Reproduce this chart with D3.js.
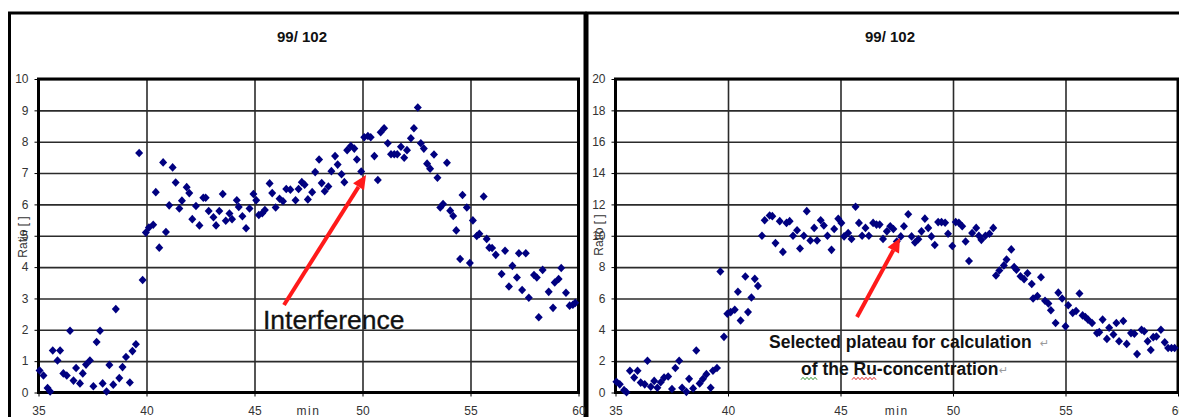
<!DOCTYPE html>
<html>
<head>
<meta charset="utf-8">
<script src="https://cdn.jsdelivr.net/npm/d3@7"></script>
<style>
  html, body { margin: 0; padding: 0; background: #ffffff; }
  svg { display: block; font-family: Arial, "Liberation Sans", sans-serif; }
</style>
</head>
<body>
<script>
// Isotope ratio 99/102 versus time, two evaluations side by side.
const xTicks = [35, 40, 45, 50, 55, 60];
const yTicksLeft = [0, 1, 2, 3, 4, 5, 6, 7, 8, 9, 10];
const yTicksRight = [0, 2, 4, 6, 8, 10, 12, 14, 16, 18, 20];

const timeLeft = [
  35.05, 35.23, 35.42, 35.54, 35.66, 35.88, 36.00, 36.15, 36.31, 36.46,
  36.62, 36.74, 36.92, 37.05, 37.20, 37.38, 37.54, 37.69, 37.85, 37.97,
  38.15, 38.28, 38.46, 38.58, 38.74, 38.89, 39.05, 39.23, 39.35, 39.51,
  39.66, 39.82, 39.97, 40.11, 40.31, 40.43, 40.59, 40.77, 40.90, 41.05,
  41.21, 41.35, 41.52, 41.64, 41.86, 41.98, 42.12, 42.29, 42.45, 42.63,
  42.74, 42.88, 43.10, 43.22, 43.37, 43.53, 43.67, 43.84, 43.96, 44.18,
  44.27, 44.44, 44.61, 44.77, 44.95, 45.08, 45.20, 45.36, 45.48, 45.70,
  45.82, 45.98, 46.16, 46.32, 46.47, 46.66, 46.90, 47.04, 47.19, 47.32,
  47.47, 47.67, 47.81, 47.99, 48.11, 48.25, 48.42, 48.56, 48.73, 48.85,
  49.03, 49.16, 49.29, 49.46, 49.62, 49.74, 49.94, 50.08, 50.25, 50.38,
  50.55, 50.71, 50.84, 51.00, 51.17, 51.32, 51.47, 51.61, 51.78, 51.93,
  52.06, 52.24, 52.38, 52.56, 52.70, 52.84, 52.99, 53.13, 53.31, 53.47,
  53.60, 53.73, 53.91, 54.06, 54.20, 54.34, 54.52, 54.63, 54.83, 54.97,
  55.11, 55.29, 55.41, 55.61, 55.75, 55.87, 56.00, 56.17, 56.44, 56.60,
  56.78, 56.94, 57.15, 57.24, 57.39, 57.56, 57.70, 57.94, 58.07, 58.16,
  58.34, 58.62, 58.82, 58.90, 59.08, 59.20, 59.42, 59.59, 59.74, 59.85
];
const ratioLeft = [
  0.70, 0.54, 0.14, 0.03, 1.34, 1.02, 1.34, 0.61, 0.54, 1.97,
  0.38, 0.78, 0.29, 0.61, 0.89, 1.02, 0.20, 1.61, 1.97, 0.29,
  0.03, 0.88, 0.25, 2.66, 0.46, 0.81, 1.13, 0.32, 1.32, 1.54,
  7.64, 3.59, 5.10, 5.26, 5.35, 6.39, 4.62, 7.34, 5.12, 5.97,
  7.18, 6.70, 5.87, 6.12, 6.55, 6.36, 5.53, 5.95, 5.33, 6.21,
  6.21, 5.79, 5.59, 5.33, 5.79, 6.33, 5.48, 5.71, 5.53, 6.13,
  5.92, 5.62, 5.24, 5.87, 6.33, 6.13, 5.66, 5.72, 5.82, 6.67,
  6.36, 5.90, 6.18, 6.10, 6.49, 6.47, 6.13, 6.49, 6.71, 6.63,
  6.16, 6.39, 7.03, 7.43, 6.68, 6.42, 6.57, 7.06, 7.54, 7.27,
  6.96, 6.71, 7.73, 7.86, 7.78, 7.43, 7.05, 8.14, 8.18, 8.14,
  7.54, 6.78, 8.30, 8.43, 7.95, 7.60, 7.60, 7.60, 7.84, 7.49,
  7.73, 8.11, 8.43, 9.09, 7.95, 7.78, 7.30, 7.14, 7.59, 6.85,
  5.90, 6.01, 7.33, 5.80, 5.63, 5.17, 4.26, 6.30, 5.90, 4.13,
  5.49, 4.99, 5.06, 6.25, 4.90, 4.62, 4.61, 4.39, 3.78, 4.52,
  3.38, 4.04, 3.67, 4.44, 3.27, 4.44, 3.02, 3.75, 3.67, 2.40,
  3.91, 3.21, 2.70, 3.51, 3.62, 3.97, 3.18, 2.77, 2.80, 2.86
];

const timeRight = [
  35.04, 35.19, 35.38, 35.49, 35.64, 35.83, 35.98, 36.12, 36.30, 36.42,
  36.57, 36.72, 36.86, 37.01, 37.16, 37.34, 37.51, 37.66, 37.83, 37.96,
  38.15, 38.27, 38.45, 38.59, 38.74, 38.89, 39.04, 39.23, 39.33, 39.51,
  39.66, 39.82, 39.97, 40.12, 40.30, 40.44, 40.56, 40.77, 40.89, 41.04,
  41.19, 41.33, 41.51, 41.63, 41.85, 41.97, 42.11, 42.30, 42.44, 42.60,
  42.74, 42.89, 43.07, 43.20, 43.37, 43.50, 43.66, 43.83, 43.96, 44.12,
  44.26, 44.42, 44.60, 44.72, 44.90, 45.04, 45.16, 45.34, 45.49, 45.67,
  45.82, 45.96, 46.11, 46.26, 46.45, 46.60, 46.74, 46.89, 47.06, 47.21,
  47.35, 47.50, 47.68, 47.82, 48.01, 48.16, 48.31, 48.46, 48.60, 48.75,
  48.90, 49.04, 49.19, 49.34, 49.49, 49.65, 49.78, 49.97, 50.12, 50.26,
  50.41, 50.56, 50.71, 50.85, 51.03, 51.15, 51.26, 51.44, 51.62, 51.79,
  51.91, 52.06, 52.26, 52.38, 52.59, 52.72, 52.82, 53.00, 53.16, 53.31,
  53.50, 53.56, 53.75, 53.91, 54.09, 54.24, 54.35, 54.56, 54.68, 54.85,
  55.00, 55.12, 55.32, 55.47, 55.62, 55.76, 55.88, 56.00, 56.18, 56.40,
  56.50, 56.65, 56.84, 56.94, 57.13, 57.26, 57.38, 57.57, 57.72, 57.91,
  58.06, 58.18, 58.38, 58.50, 58.65, 58.79, 58.90, 59.04, 59.24, 59.41,
  59.56, 59.71, 59.85
];
const ratioRight = [
  0.69, 0.52, 0.15, 0.02, 1.39, 0.95, 1.39, 0.63, 0.52, 2.03,
  0.37, 0.74, 0.30, 0.65, 0.95, 1.02, 0.22, 1.56, 2.03, 0.30,
  0.04, 0.87, 0.26, 2.68, 0.58, 0.87, 1.17, 0.30, 1.39, 1.56,
  7.72, 3.55, 5.02, 5.13, 5.28, 6.43, 4.59, 7.40, 5.13, 6.06,
  7.25, 6.80, 10.00, 10.99, 11.29, 11.25, 9.53, 10.93, 8.97, 10.82,
  10.93, 10.00, 10.35, 9.19, 10.00, 11.57, 9.70, 10.50, 9.70, 10.99,
  10.65, 10.00, 9.10, 10.43, 11.08, 10.82, 9.96, 10.18, 9.79, 11.85,
  10.82, 10.00, 10.50, 10.00, 10.82, 10.71, 10.71, 9.80, 10.28, 10.61,
  10.43, 9.63, 9.96, 10.61, 11.37, 9.96, 9.57, 9.78, 10.28, 11.09,
  10.50, 9.96, 9.41, 10.87, 10.87, 10.83, 10.13, 9.35, 10.87, 10.83,
  10.61, 9.63, 8.39, 10.17, 10.50, 10.00, 9.74, 10.00, 10.13, 10.50,
  7.46, 7.78, 8.11, 8.48, 9.13, 8.00, 7.83, 7.42, 7.23, 7.61,
  6.92, 6.00, 6.15, 7.35, 5.85, 5.68, 5.25, 4.43, 6.37, 6.00,
  4.22, 5.57, 5.08, 5.20, 6.32, 4.92, 4.82, 4.65, 4.43, 3.79,
  3.85, 4.65, 3.42, 4.13, 3.70, 4.43, 3.27, 4.56, 3.10, 3.79,
  3.75, 2.45, 4.00, 3.91, 3.27, 2.71, 3.53, 3.57, 4.00, 3.20,
  2.84, 2.84, 2.84
];

const W = 1179, H = 417;
const svg = d3.select("body").append("svg")
  .attr("width", W).attr("height", H)
  .attr("viewBox", `0 0 ${W} ${H}`);

svg.append("rect").attr("width", W).attr("height", H).attr("fill", "#ffffff");

const ink = "#111111";
const labelInk = "#333333";
const markerInk = "#000080";

// diamond marker, slightly wider than d3's built-in one
const diamond = "M0,-4.3L4,0L0,4.3L-4,0Z";

function drawPanel(cfg) {
  const g = svg.append("g");

  // outer chart frame
  g.append("rect")
    .attr("x", cfg.frame[0]).attr("y", cfg.frame[1])
    .attr("width", cfg.frame[2]).attr("height", cfg.frame[3])
    .attr("fill", "none").attr("stroke", "#000").attr("stroke-width", 3);

  const x = d3.scaleLinear().domain([35, 60]).range([cfg.left, cfg.right]);
  const y = d3.scaleLinear().domain([0, cfg.yMax]).range([cfg.bottom, cfg.top]);
  const w = cfg.right - cfg.left, h = cfg.bottom - cfg.top;

  // grid
  const gridY = g.append("g").attr("transform", `translate(${cfg.left},0)`)
    .call(d3.axisLeft(y).tickValues(cfg.yTicks).tickSize(-w).tickFormat(""));
  const gridX = g.append("g").attr("transform", `translate(0,${cfg.bottom})`)
    .call(d3.axisBottom(x).tickValues(xTicks).tickSize(-h).tickFormat(""));
  [gridY, gridX].forEach(a => {
    a.select(".domain").remove();
    a.selectAll("line").attr("stroke", "#2b2b2b").attr("stroke-width", 1.6);
  });

  // plot area border
  g.append("rect")
    .attr("x", cfg.left).attr("y", cfg.top).attr("width", w).attr("height", h)
    .attr("fill", "none").attr("stroke", "#000").attr("stroke-width", 3);

  // axes with labels
  const ay = g.append("g").attr("transform", `translate(${cfg.left},0)`)
    .call(d3.axisLeft(y).tickValues(cfg.yTicks).tickSize(4).tickSizeOuter(0).tickPadding(6));
  const ax = g.append("g").attr("transform", `translate(0,${cfg.bottom})`)
    .call(d3.axisBottom(x).tickValues(xTicks).tickSize(4).tickSizeOuter(0).tickPadding(10));
  [ay, ax].forEach(a => {
    a.select(".domain").remove();
    a.selectAll("line").attr("stroke", "#000").attr("stroke-width", 1);
    a.selectAll("text").attr("fill", labelInk)
      .style("font-family", "Arial, 'Liberation Sans', sans-serif")
      .style("font-size", "12px");
  });

  // axis titles
  g.append("text")
    .attr("transform", `translate(${cfg.yTitleX},${cfg.yTitleY}) rotate(-90)`)
    .attr("text-anchor", "middle").attr("dominant-baseline", "middle")
    .attr("fill", labelInk).style("font-size", "12px")
    .text("Ratio [ ]");
  g.append("text")
    .attr("x", x(47.5)).attr("y", 415)
    .attr("text-anchor", "middle").attr("fill", labelInk)
    .style("font-size", "12px").style("letter-spacing", "1.5px")
    .text("min");

  // chart title
  g.append("text")
    .attr("x", cfg.titleX).attr("y", 42)
    .attr("text-anchor", "middle").attr("fill", ink)
    .style("font-size", "15px").style("font-weight", "bold")
    .text("99/ 102");

  // measured points
  g.append("g").selectAll("path")
    .data(d3.zip(cfg.time, cfg.ratio))
    .join("path")
    .attr("d", diamond)
    .attr("transform", d => `translate(${x(d[0])},${y(d[1])})`)
    .attr("fill", markerInk);

  return g;
}

function arrow(g, x1, y1, x2, y2) {
  const ang = Math.atan2(y2 - y1, x2 - x1);
  const len = 14, half = 6.5;
  const bx = x2 - len * Math.cos(ang), by = y2 - len * Math.sin(ang);
  g.append("line")
    .attr("x1", x1).attr("y1", y1).attr("x2", bx).attr("y2", by)
    .attr("stroke", "#ff1a1a").attr("stroke-width", 4).attr("stroke-linecap", "butt");
  const px = -Math.sin(ang) * half, py = Math.cos(ang) * half;
  g.append("path")
    .attr("d", `M${x2},${y2}L${bx + px},${by + py}L${bx - px},${by - py}Z`)
    .attr("fill", "#ff1a1a");
}

function squiggle(g, x0, x1, yb, color) {
  const pts = [];
  for (let xx = x0, k = 0; xx <= x1; xx += 2, k++) pts.push([xx, yb + (k % 2 ? -1.2 : 1.2)]);
  g.append("path").attr("d", d3.line()(pts))
    .attr("fill", "none").attr("stroke", color).attr("stroke-width", 1);
}

const leftPanel = drawPanel({
  frame: [9.5, 13, 575.5, 430],
  left: 38.5, right: 578.5, top: 79, bottom: 392.5,
  yMax: 10, yTicks: yTicksLeft,
  yTitleX: 24, yTitleY: 237, titleX: 302,
  time: timeLeft, ratio: ratioLeft
});

const rightPanel = drawPanel({
  frame: [587, 13, 640, 430],
  left: 615.5, right: 1178, top: 79, bottom: 392.5,
  yMax: 20, yTicks: yTicksRight,
  yTitleX: 600, yTitleY: 235, titleX: 890,
  time: timeRight, ratio: ratioRight
});

// annotation: interference
arrow(leftPanel, 284, 305, 366, 175);
leftPanel.append("text")
  .attr("x", 263).attr("y", 329)
  .attr("fill", ink).style("font-size", "26.5px")
  .style("stroke", ink).style("stroke-width", 0.3)
  .text("Interference");

// annotation: plateau used for the concentration
arrow(rightPanel, 857, 317, 900, 238);
rightPanel.append("text")
  .attr("x", 769).attr("y", 348)
  .attr("fill", ink).style("font-size", "17.5px").style("font-weight", "bold")
  .text("Selected plateau for calculation");
rightPanel.append("text")
  .attr("x", 801).attr("y", 375)
  .attr("fill", ink).style("font-size", "17.5px").style("font-weight", "bold")
  .text("of the Ru-concentration");
rightPanel.append("text")
  .attr("x", 1040).attr("y", 347)
  .attr("fill", "#9a9a9a").style("font-size", "11px")
  .style("font-family", "'DejaVu Sans', sans-serif")
  .text("\u21B5");
rightPanel.append("text")
  .attr("x", 999).attr("y", 374)
  .attr("fill", "#9a9a9a").style("font-size", "11px")
  .style("font-family", "'DejaVu Sans', sans-serif")
  .text("\u21B5");
squiggle(rightPanel, 801, 817, 378.5, "#3a9a3a");
squiggle(rightPanel, 852, 876, 378.5, "#e03030");
</script>
</body>
</html>
